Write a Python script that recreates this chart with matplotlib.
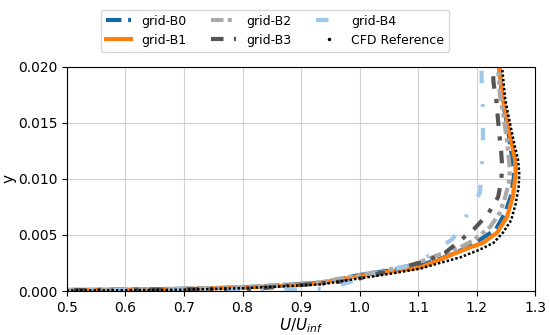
import matplotlib.pyplot as plt
from matplotlib.lines import Line2D

# perfiles de velocidad (U/Uinf, y)
u_b0 = [0.0, 0.55, 0.70, 0.80, 0.88, 0.936, 0.997, 1.099, 1.15, 1.189, 1.233, 1.249, 1.259, 1.264, 1.262, 1.253, 1.244, 1.239, 1.237]
y_b0 = [0.0, 0.0001, 0.0002, 0.00032, 0.00055, 0.00075, 0.0014, 0.0022, 0.0031, 0.004, 0.0055, 0.007, 0.0085, 0.0102, 0.0114, 0.0147, 0.0171, 0.0198, 0.021]

u_b1 = [0.0, 0.55, 0.70, 0.80, 0.88, 0.932, 1.0, 1.104, 1.16, 1.189, 1.211, 1.235, 1.252, 1.262, 1.267, 1.266, 1.254, 1.245, 1.239, 1.237]
y_b1 = [0.0, 0.0001, 0.00018, 0.0003, 0.0005, 0.0007, 0.00135, 0.0021, 0.0033, 0.0039, 0.0043, 0.0052, 0.0066, 0.0084, 0.0105, 0.0117, 0.0147, 0.0171, 0.0198, 0.021]

u_b2 = [0.0, 0.55, 0.70, 0.80, 0.88, 0.936, 0.997, 1.089, 1.139, 1.172, 1.194, 1.223, 1.24, 1.249, 1.255, 1.257, 1.252, 1.245, 1.24, 1.237, 1.236]
y_b2 = [0.0, 0.0001, 0.0002, 0.00035, 0.0006, 0.0008, 0.0014, 0.0023, 0.0033, 0.0039, 0.0045, 0.0057, 0.007, 0.0084, 0.0096, 0.0108, 0.0135, 0.016, 0.0174, 0.0198, 0.021]

u_b3 = [0.0, 0.55, 0.70, 0.82, 0.88, 0.984, 1.052, 1.115, 1.146, 1.172, 1.197, 1.22, 1.237, 1.242, 1.244, 1.242, 1.24, 1.237, 1.234, 1.229, 1.227]
y_b3 = [0.0, 0.0001, 0.00015, 0.0002, 0.00045, 0.0009, 0.0018, 0.0027, 0.0034, 0.0045, 0.0056, 0.0069, 0.0084, 0.0098, 0.011, 0.0125, 0.0135, 0.0151, 0.0169, 0.0186, 0.021]

u_b4 = [0.0, 0.947, 0.989, 1.023, 1.087, 1.12, 1.16, 1.185, 1.206, 1.209, 1.211, 1.211, 1.209, 1.208]
y_b4 = [0.0, 0.0002, 0.0009, 0.0015, 0.0023, 0.0032, 0.0047, 0.0069, 0.0088, 0.0111, 0.0137, 0.016, 0.0185, 0.021]

u_ref = [0.0, 0.55, 0.70, 0.80, 0.88, 0.936, 0.997, 1.048, 1.104, 1.137, 1.172, 1.206, 1.229, 1.245, 1.259, 1.267, 1.272, 1.273, 1.271, 1.265, 1.257, 1.249, 1.244, 1.242]
y_ref = [0.0, 0.00005, 0.00012, 0.00025, 0.00045, 0.0006, 0.0011, 0.0015, 0.002, 0.0025, 0.003, 0.0037, 0.0043, 0.0052, 0.0063, 0.0078, 0.0093, 0.0105, 0.0117, 0.013, 0.015, 0.0171, 0.0198, 0.021]

fig = plt.figure(figsize=(5.5, 3.35), dpi=100)
ax = fig.add_axes([0.1218, 0.1313, 0.851, 0.669])

ax.plot(u_b0, y_b0, '--', color='#156aa6', lw=3, label='grid-B0')
ax.plot(u_b1, y_b1, '-', color='#ff7f0e', lw=3, label='grid-B1')
ax.plot(u_b2, y_b2, ls=(0, (3, 1, 1, 1, 1, 1)), color='#aaaaaa', lw=3, label='grid-B2')
ax.plot(u_b3, y_b3, ls=(0, (3, 2.5, 1, 2.5)), color='#555555', lw=3, label='grid-B3')
ax.plot(u_b4, y_b4, ls=(0, (3, 5, 0.7, 5)), color='#9ec8ea', lw=3, label='grid-B4')
ax.plot(u_ref, y_ref, ls=(0, (1, 0.8)), color='k', lw=1.8)

ax.set_xlim(0.5, 1.3)
ax.set_ylim(0, 0.02)
ax.set_xticks([0.5, 0.6, 0.7, 0.8, 0.9, 1.0, 1.1, 1.2, 1.3])
ax.set_yticks([0.0, 0.005, 0.010, 0.015, 0.020])
ax.yaxis.set_major_formatter(plt.FormatStrFormatter('%.3f'))
ax.tick_params(labelsize=10)
ax.grid(True, color='#d0d0d0')
ax.set_xlabel('$U/U_{inf}$', fontsize=11, labelpad=1)
ax.set_ylabel('y', fontsize=11, labelpad=1)

# leyenda arriba, con un punto para la referencia
handles, labels = ax.get_legend_handles_labels()
handles.append(Line2D([], [], ls='none', marker='.', ms=3, color='k'))
labels.append('CFD Reference')
fig.legend(handles, labels, loc='upper center', bbox_to_anchor=(0.5, 0.99), ncol=3, fontsize=9)

plt.savefig('out.png')
